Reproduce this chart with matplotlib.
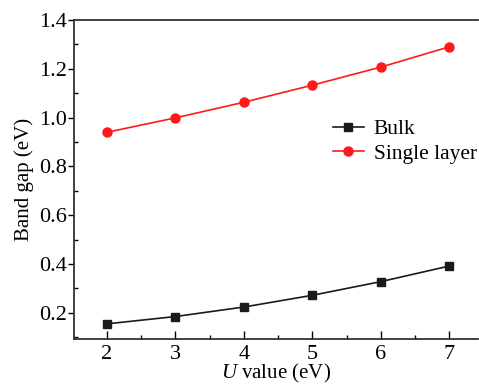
import matplotlib
matplotlib.use("Agg")
import matplotlib.pyplot as plt
from matplotlib.ticker import MultipleLocator

u_values = [2, 3, 4, 5, 6, 7]
bulk = [0.155, 0.185, 0.224, 0.272, 0.328, 0.392]
single_layer = [0.940, 0.999, 1.063, 1.133, 1.207, 1.290]

plt.rcParams['font.family'] = ['Liberation Serif', 'DejaVu Serif']
plt.rcParams['mathtext.fontset'] = 'custom'
plt.rcParams['mathtext.it'] = 'Liberation Serif:italic'
plt.rcParams['mathtext.rm'] = 'Liberation Serif'

fig = plt.figure(figsize=(4.79, 3.87), dpi=100)
ax = fig.add_axes([74/479, 1-339/387, (478-74)/479, (339-20)/387])

ax.plot(u_values, bulk, color='#1a1a1a', marker='s', markersize=5.5, lw=1.2, label='Bulk')
ax.plot(u_values, single_layer, color='#ff1a1a', marker='o', markersize=6.5, lw=1.2, label='Single layer')

ax.set_xlim(1.52, 7.42)
ax.set_ylim(0.093, 1.4)
ax.set_xticks(u_values)
ax.xaxis.set_minor_locator(MultipleLocator(0.5))
ax.set_yticks([0.2, 0.4, 0.6, 0.8, 1.0, 1.2, 1.4])
ax.set_yticklabels(['0.2', '0.4', '0.6', '0.8', '1.0', '1.2', '1.4'])
ax.yaxis.set_minor_locator(MultipleLocator(0.1))

ax.spines['right'].set_visible(False)
for s in ['left', 'bottom', 'top']:
    ax.spines[s].set_linewidth(1.3)
    ax.spines[s].set_color('#333333')

ax.tick_params(axis='x', which='major', direction='in', length=6, width=1.0, labelsize=16, pad=4)
ax.tick_params(axis='x', which='minor', direction='in', length=3, width=1.0)
ax.tick_params(axis='y', which='major', direction='out', length=4, width=1.0, labelsize=16, pad=1)
ax.tick_params(axis='y', which='minor', direction='in', length=3, width=1.0)

ax.set_xlabel(r'$U$ value (eV)', fontsize=15, labelpad=-1)
ax.set_ylabel('Band gap (eV)', fontsize=15, labelpad=4)

ax.legend(loc='upper right', bbox_to_anchor=(1.045, 0.75), frameon=False, fontsize=15.5,
          handlelength=1.45, handletextpad=0.45, labelspacing=0.2)

fig.savefig('out.png', dpi=100)
